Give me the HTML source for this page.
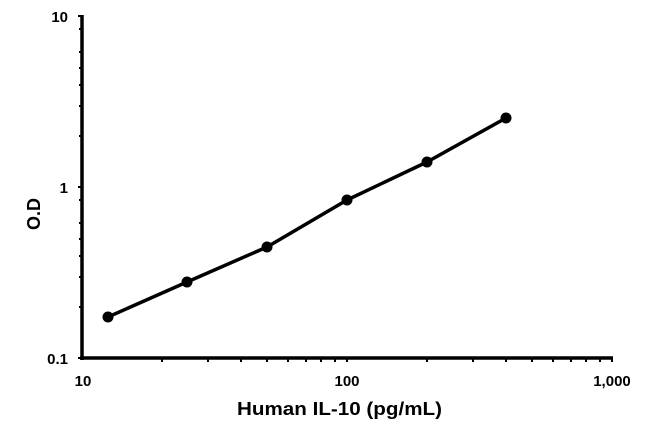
<!DOCTYPE html>
<html><head><style>body{margin:0;background:#fff}svg{display:block}</style></head><body>
<svg width="650" height="427" xmlns="http://www.w3.org/2000/svg" font-family="Liberation Sans, Arial, sans-serif" font-weight="bold">
<g stroke="#000" stroke-width="3.5" fill="none">
<line x1="82" y1="15" x2="82" y2="360"/>
<line x1="80" y1="358" x2="613" y2="358"/>
</g>
<g stroke="#000" stroke-width="2">
<line x1="78" y1="16" x2="82" y2="16"/><line x1="78" y1="187" x2="82" y2="187"/><line x1="78" y1="358" x2="82" y2="358"/>
<line x1="79" y1="29" x2="82" y2="29"/><line x1="79" y1="52" x2="82" y2="52"/><line x1="79" y1="68" x2="82" y2="68"/><line x1="79" y1="85" x2="82" y2="85"/><line x1="79" y1="106" x2="82" y2="106"/><line x1="79" y1="136" x2="82" y2="136"/>
<line x1="79" y1="200" x2="82" y2="200"/><line x1="79" y1="223" x2="82" y2="223"/><line x1="79" y1="239" x2="82" y2="239"/><line x1="79" y1="256" x2="82" y2="256"/><line x1="79" y1="277" x2="82" y2="277"/><line x1="79" y1="307" x2="82" y2="307"/>
<line x1="162" y1="358" x2="162" y2="362"/><line x1="208" y1="358" x2="208" y2="362"/><line x1="241" y1="358" x2="241" y2="362"/><line x1="267" y1="358" x2="267" y2="362"/><line x1="288" y1="358" x2="288" y2="362"/><line x1="306" y1="358" x2="306" y2="362"/><line x1="321" y1="358" x2="321" y2="362"/><line x1="335" y1="358" x2="335" y2="362"/><line x1="347" y1="358" x2="347" y2="362"/>
<line x1="427" y1="358" x2="427" y2="362"/><line x1="473" y1="358" x2="473" y2="362"/><line x1="506" y1="358" x2="506" y2="362"/><line x1="532" y1="358" x2="532" y2="362"/><line x1="553" y1="358" x2="553" y2="362"/><line x1="571" y1="358" x2="571" y2="362"/><line x1="586" y1="358" x2="586" y2="362"/><line x1="600" y1="358" x2="600" y2="362"/><line x1="612" y1="358" x2="612" y2="362"/>
</g>
<polyline points="108,317 187,282 267,247 347,200 427,162 506,118" fill="none" stroke="#000" stroke-width="3.5" stroke-linejoin="round"/>
<g fill="#000">
<circle cx="108" cy="317" r="5.5"/><circle cx="187" cy="282" r="5.5"/><circle cx="267" cy="247" r="5.5"/><circle cx="347" cy="200" r="5.5"/><circle cx="427" cy="162" r="5.5"/><circle cx="506" cy="118" r="5.5"/>
</g>
<g font-size="15" text-anchor="end">
<text x="68" y="22">10</text><text x="68" y="193">1</text><text x="68" y="364">0.1</text>
</g>
<g font-size="15" text-anchor="middle">
<text x="83" y="386">10</text><text x="347" y="386">100</text><text x="612" y="386">1,000</text>
</g>
<text x="237" y="415" font-size="18" textLength="205" lengthAdjust="spacingAndGlyphs">Human IL-10 (pg/mL)</text>
<text transform="translate(40,214) rotate(-90)" font-size="18" text-anchor="middle">O.D</text>
</svg>
</body></html>
